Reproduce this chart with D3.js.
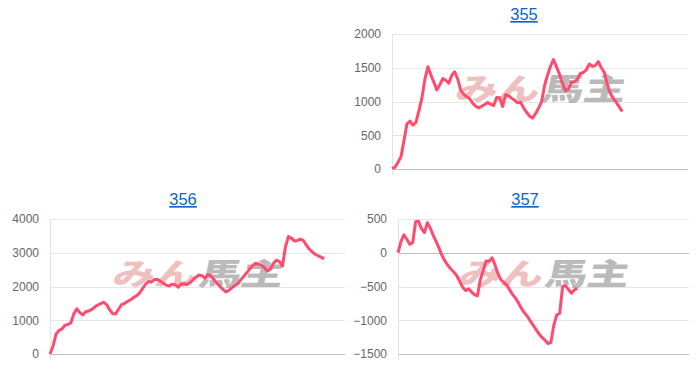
<!DOCTYPE html>
<html lang="ja">
<head>
  <meta charset="UTF-8">
  <title>355 / 356 / 357</title>
  <script src="https://d3js.org/d3.v7.min.js"></script>
  <style>
    html, body { margin: 0; padding: 0; background: #fff; }
    svg { display: block; }
    .tick-label { font: 12px "Liberation Sans", Arial, sans-serif; fill: #666; }
    .title { font: 16.5px "Liberation Sans", Arial, sans-serif; fill: #0b66c9; text-decoration: underline; }
  </style>
</head>
<body>
  <div id="chart"></div>
  <script>
    // number of x slots shared by every chart (labels are hidden)
    const slotCount = 100;

    const titles = ["355", "356", "357"];

    const values355 = [10, 25, 100, 180, 420, 670, 710, 650, 690, 860, 1050, 1330, 1515, 1395, 1285, 1172,
      1250, 1340, 1315, 1271, 1390, 1440, 1330, 1165, 1110, 1070, 1040, 975, 930, 905, 930, 955, 985, 960,
      940, 1060, 1055, 926, 1100, 1085, 1050, 1020, 980, 990, 905, 840, 785, 754, 820, 900, 990, 1230, 1390,
      1520, 1620, 1517, 1405, 1271, 1160, 1180, 1285, 1290, 1330, 1415, 1430, 1470, 1555, 1520, 1535, 1591,
      1500, 1430, 1250, 1120, 1050, 985, 920, 852];

    const values356 = [0, 230, 580, 700, 740, 850, 880, 920, 1195, 1340, 1225, 1160, 1250, 1275, 1320, 1390,
      1450, 1490, 1535, 1465, 1315, 1195, 1190, 1325, 1460, 1500, 1555, 1610, 1670, 1725, 1800, 1930, 2060,
      2150, 2130, 2205, 2210, 2160, 2100, 2040, 2015, 2070, 2050, 1980, 2075, 2080, 2060, 2110, 2200, 2275,
      2340, 2320, 2245, 2355, 2315, 2210, 2100, 2010, 1920, 1840, 1885, 1960, 2025, 2080, 2200, 2300, 2405,
      2515, 2620, 2690, 2660, 2625, 2555, 2455, 2520, 2690, 2780, 2740, 2600, 3165, 3480, 3435, 3350, 3365,
      3400, 3365, 3235, 3110, 3025, 2955, 2910, 2870, 2820];

    const values357 = [0, 165, 264, 200, 125, 150, 460, 465, 355, 300, 445, 365, 255, 165, 65, -45, -125,
      -190, -240, -285, -340, -426, -510, -560, -535, -580, -620, -640, -400, -265, -121, -125, -75, -180,
      -310, -400, -440, -480, -550, -620, -672, -745, -825, -890, -940, -1010, -1075, -1140, -1205, -1255,
      -1295, -1345, -1330, -1075, -920, -900, -500, -490, -545, -600, -550, -525];

    const yDomains = [[0, 2000], [0, 4000], [-1500, 500]];
    const yTicks = [
      [0, 500, 1000, 1500, 2000],
      [0, 1000, 2000, 3000, 4000],
      [-1500, -1000, -500, 0, 500]
    ];
    const seriesList = [values355, values356, values357];

    const width = 700, height = 370;
    const svg = d3.select("#chart").append("svg")
      .attr("width", width)
      .attr("height", height);

    // plot boxes for each panel (top-left cell stays empty)
    const panels = [
      {x0: 392, x1: 688, y0: 34, y1: 169, titleX: 524, titleY: 20},
      {x0: 50, x1: 345, y0: 219, y1: 354, titleX: 183, titleY: 205},
      {x0: 398, x1: 689, y0: 219, y1: 354, titleX: 525, titleY: 205}
    ];

    panels.forEach(function(p, k) {
      const g = svg.append("g");
      const x = d3.scaleLinear().domain([0, slotCount - 1]).range([p.x0, p.x1]);
      const y = d3.scaleLinear().domain(yDomains[k]).range([p.y1, p.y0]);

      // grid lines
      g.selectAll("line.grid")
        .data(yTicks[k])
        .join("line")
        .attr("class", "grid")
        .attr("x1", p.x0).attr("x2", p.x1)
        .attr("y1", d => Math.round(y(d)) + 0.5)
        .attr("y2", d => Math.round(y(d)) + 0.5)
        .attr("stroke", d => (d === 0 || d === yDomains[k][0]) ? "#bdbdbd" : "#e6e6e6")
        .attr("stroke-width", 1);

      // left axis line
      g.append("line")
        .attr("x1", p.x0 + 0.5).attr("x2", p.x0 + 0.5)
        .attr("y1", p.y0).attr("y2", p.y1 + 6)
        .attr("stroke", "#e3e3e3");

      // y labels
      const axis = d3.axisLeft(y).tickValues(yTicks[k]).tickFormat(d3.format("d")).tickSize(0).tickPadding(11);
      const ax = g.append("g").attr("transform", `translate(${p.x0},0)`).call(axis);
      ax.select(".domain").remove();
      ax.selectAll("text").attr("class", "tick-label").attr("fill", null);

      // watermark
      const cx = (p.x0 + p.x1) / 2, cy = p.y0 + (p.y1 - p.y0) * 0.49;
      const wm = g.append("g")
        .attr("transform", `translate(${cx},${cy}) skewX(-12) scale(1.05,0.76)`)
        .style("font-family", "'Noto Sans CJK JP', sans-serif")
        .style("font-weight", "900")
        .style("font-size", "40px");
      wm.append("text")
        .attr("x", -2).attr("y", 0)
        .attr("text-anchor", "end")
        .attr("fill", "rgba(224,130,130,0.5)")
        .text("みん");
      wm.append("text")
        .attr("x", 0).attr("y", 0)
        .attr("text-anchor", "start")
        .attr("fill", "rgba(140,140,140,0.6)")
        .text("馬主");

      // series line
      const line = d3.line()
        .x((d, i) => x(i))
        .y(d => y(d));
      g.append("path")
        .datum(seriesList[k])
        .attr("d", line)
        .attr("fill", "none")
        .attr("stroke", "#ff4b6e")
        .attr("stroke-width", 3)
        .attr("stroke-linejoin", "round");

      // title
      g.append("text")
        .attr("class", "title")
        .attr("x", p.titleX)
        .attr("y", p.titleY)
        .attr("text-anchor", "middle")
        .text(titles[k]);
    });
  </script>
</body>
</html>
